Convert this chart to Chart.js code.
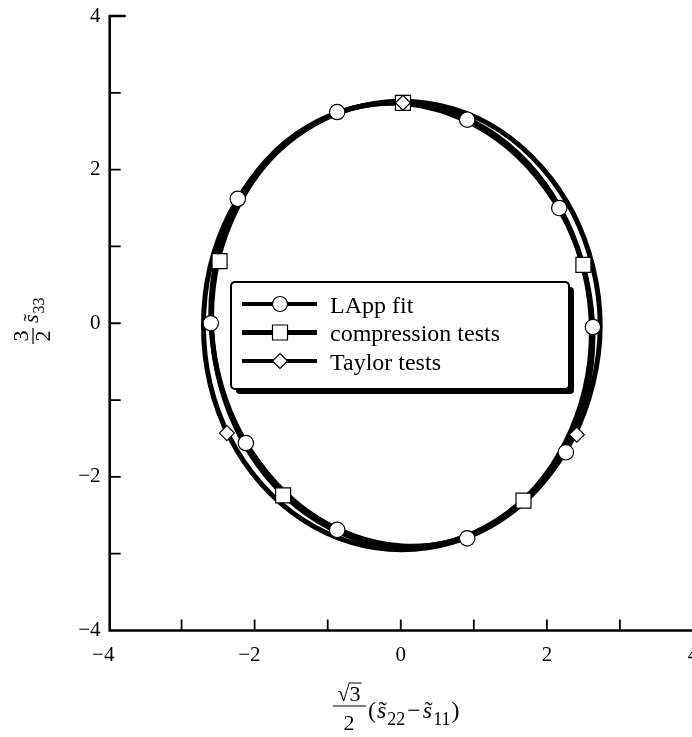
<!DOCTYPE html>
<html>
<head>
<meta charset="utf-8">
<script src="https://cdn.jsdelivr.net/npm/chart.js@4/dist/chart.umd.min.js"></script>
<style>
  html, body { margin: 0; padding: 0; background: #fff; overflow: hidden; }
  #wrap { position: relative; width: 720px; height: 737px; }
</style>
</head>
<body>
<div id="wrap"><canvas id="c" width="720" height="737"></canvas></div>
<script>
// ---- data -------------------------------------------------------------
const seriesNames = ['LApp fit', 'compression tests', 'Taylor tests'];

// LApp fit yield locus (closed curve, read every 15 degrees round the locus)
const lappCurveX = [2.63, 2.54, 2.28, 1.86, 1.32, 0.69, 0.02, -0.66, -1.29, -1.83, -2.25, -2.51, -2.60, -2.51, -2.25, -1.83, -1.29, -0.66, 0.02, 0.69, 1.32, 1.86, 2.28, 2.54];
const lappCurveY = [-0.17, 0.58, 1.29, 1.91, 2.40, 2.72, 2.86, 2.80, 2.55, 2.13, 1.55, 0.87, 0.13, -0.62, -1.33, -1.95, -2.44, -2.76, -2.90, -2.84, -2.59, -2.17, -1.59, -0.91];
const lappMarkX = [2.63, 2.17, 0.91, -0.87, -2.23, -2.60, -2.12, -0.87, 0.91, 2.26];
const lappMarkY = [-0.05, 1.50, 2.65, 2.75, 1.62, 0.00, -1.56, -2.69, -2.80, -1.68];

// compression tests
const compCurveX = [2.61, 2.52, 2.26, 1.85, 1.31, 0.68, 0.01, -0.66, -1.29, -1.83, -2.24, -2.50, -2.59, -2.50, -2.24, -1.83, -1.29, -0.66, 0.01, 0.68, 1.31, 1.85, 2.26, 2.52];
const compCurveY = [-0.11, 0.64, 1.35, 1.96, 2.44, 2.75, 2.87, 2.80, 2.53, 2.09, 1.50, 0.82, 0.07, -0.68, -1.39, -2.00, -2.48, -2.79, -2.91, -2.84, -2.57, -2.13, -1.54, -0.86];
const compMarkX = [0.03, -2.48, 2.50, -1.61, 1.68];
const compMarkY = [2.87, 0.81, 0.76, -2.24, -2.31];

// Taylor tests
const taylorCurveX = [2.73, 2.63, 2.36, 1.93, 1.37, 0.72, 0.01, -0.69, -1.34, -1.91, -2.34, -2.61, -2.70, -2.61, -2.34, -1.91, -1.34, -0.69, 0.01, 0.72, 1.37, 1.93, 2.36, 2.63];
const taylorCurveY = [-0.03, 0.73, 1.43, 2.03, 2.50, 2.79, 2.89, 2.79, 2.50, 2.03, 1.43, 0.73, -0.03, -0.79, -1.49, -2.09, -2.56, -2.85, -2.95, -2.85, -2.56, -2.09, -1.49, -0.79];
const taylorMarkX = [0.03, -2.38, 2.41];
const taylorMarkY = [2.87, -1.43, -1.45];

// axes
const xLabelTicks = [-4, -2, 0, 2, 4];
const yLabelTicks = [-4, -2, 0, 2, 4];
const xMinorTicks = [-3, -2, -1, 0, 1, 2, 3];
const yMinorTicks = [-3, -2, -1, 0, 1, 2, 3];

// ---- helpers ----------------------------------------------------------
const SERIF = "'Liberation Serif', 'Times New Roman', serif";
const zip = (xs, ys) => xs.map((x, i) => ({ x, y: ys[i] }));
const fmtNum = v => (v < 0 ? '\u2212' + Math.abs(v) : String(v));

// close the line datasets flagged with `closed` into smooth loops
const loopPlugin = {
  id: 'loop',
  beforeDatasetsDraw(chart) {
    chart.data.datasets.forEach((ds, i) => {
      if (!ds.closed) return;
      const line = chart.getDatasetMeta(i).dataset;
      if (!line) return;
      line._loop = true;
      line._fullLoop = true;
      line._pointsUpdated = false;
      line._segments = undefined;
      line._path = undefined;
    });
  }
};

function drawMarker(ctx, style, x, y) {
  ctx.save();
  ctx.fillStyle = '#fff';
  ctx.strokeStyle = '#000';
  ctx.lineWidth = 1.2;
  ctx.beginPath();
  if (style === 'circle') {
    ctx.arc(x, y, 7.5, 0, Math.PI * 2);
  } else if (style === 'rect') {
    ctx.rect(x - 7.5, y - 7.5, 15, 15);
  } else {
    ctx.moveTo(x, y - 7.5); ctx.lineTo(x + 7.5, y); ctx.lineTo(x, y + 7.5); ctx.lineTo(x - 7.5, y); ctx.closePath();
  }
  ctx.fill();
  ctx.stroke();
  ctx.restore();
}

// s with tilde and a subscript; returns advance width
function drawSTilde(ctx, x, base, sub, size, subSize) {
  ctx.font = `italic ${size}px ${SERIF}`;
  const sw = ctx.measureText('s').width;
  ctx.fillText('s', x, base);
  ctx.font = `${size}px ${SERIF}`;
  const tw = ctx.measureText('\u02DC').width;
  ctx.fillText('\u02DC', x + sw / 2 - tw / 2 + size * 0.04, base + size * 0.02);
  ctx.font = `${subSize}px ${SERIF}`;
  ctx.fillText(sub, x + sw + 1, base + size * 0.28);
  return sw + 1 + ctx.measureText(sub).width;
}

const framePlugin = {
  id: 'frame',
  afterDraw(chart) {
    const { ctx, chartArea: a, scales: { x, y } } = chart;
    ctx.save();
    ctx.strokeStyle = '#000';
    ctx.fillStyle = '#000';

    // axis lines
    const lx = a.left + 1.2;
    const by = a.bottom;
    ctx.lineWidth = 2.6;
    ctx.beginPath();
    ctx.moveTo(lx + 16, a.top);
    ctx.lineTo(lx, a.top);
    ctx.lineTo(lx, by);
    ctx.lineTo(chart.width, by);
    ctx.stroke();

    // inward tick marks
    ctx.lineWidth = 1.8;
    ctx.beginPath();
    yMinorTicks.forEach(v => {
      const py = y.getPixelForValue(v);
      ctx.moveTo(lx, py); ctx.lineTo(lx + 11, py);
    });
    xMinorTicks.forEach(v => {
      const px = x.getPixelForValue(v);
      ctx.moveTo(px, by); ctx.lineTo(px, by - 11);
    });
    ctx.stroke();

    // legend
    const bx = 231, byy = 282, bw = 338, bh = 107;
    ctx.beginPath(); ctx.roundRect(bx + 5, byy + 5, bw, bh, 4); ctx.fill();
    ctx.fillStyle = '#fff';
    ctx.beginPath(); ctx.roundRect(bx, byy, bw, bh, 4); ctx.fill();
    ctx.lineWidth = 2; ctx.stroke();
    const rows = [
      { name: seriesNames[0], style: 'circle', lw: 3.8, y: 304 },
      { name: seriesNames[1], style: 'rect', lw: 4.8, y: 332.5 },
      { name: seriesNames[2], style: 'diamond', lw: 3.8, y: 361 }
    ];
    rows.forEach(r => {
      ctx.strokeStyle = '#000';
      ctx.lineWidth = r.lw;
      ctx.beginPath(); ctx.moveTo(242, r.y); ctx.lineTo(317, r.y); ctx.stroke();
      drawMarker(ctx, r.style, 280, r.y);
      ctx.fillStyle = '#000';
      ctx.font = `24px ${SERIF}`;
      ctx.textBaseline = 'alphabetic';
      ctx.textAlign = 'left';
      ctx.fillText(r.name, 330, r.y + 8.5);
    });

    // x axis title: (sqrt3 / 2) (s22 - s11)
    ctx.fillStyle = '#000';
    ctx.strokeStyle = '#000';
    ctx.textAlign = 'left';
    ctx.textBaseline = 'alphabetic';
    ctx.font = `22px ${SERIF}`;
    const rad = '\u221A';
    const rw = ctx.measureText(rad).width;
    const tw3 = ctx.measureText('3').width;
    const fx = 349;
    const numX = fx - (rw + tw3) / 2;
    ctx.fillText(rad, numX, 701);
    ctx.fillText('3', numX + rw, 701);
    ctx.lineWidth = 1;
    ctx.beginPath(); ctx.moveTo(numX + rw - 1, 683); ctx.lineTo(numX + rw + tw3 + 1, 683); ctx.stroke();
    ctx.lineWidth = 1.2;
    ctx.beginPath(); ctx.moveTo(333, 706); ctx.lineTo(366, 706); ctx.stroke();
    const tw2 = ctx.measureText('2').width;
    ctx.fillText('2', fx - tw2 / 2, 730);
    let cx = 368;
    const base = 718;
    ctx.font = `24px ${SERIF}`;
    ctx.fillText('(', cx, base); cx += ctx.measureText('(').width + 1;
    cx += drawSTilde(ctx, cx, base, '22', 24, 18);
    ctx.font = `24px ${SERIF}`;
    cx += 2;
    ctx.fillText('\u2212', cx, base); cx += ctx.measureText('\u2212').width + 2;
    cx += drawSTilde(ctx, cx, base, '11', 24, 18);
    ctx.font = `24px ${SERIF}`;
    ctx.fillText(')', cx + 1, base);

    // y axis title: (3 / 2) s33, rotated
    ctx.save();
    ctx.translate(33, 336);
    ctx.rotate(-Math.PI / 2);
    ctx.font = `22px ${SERIF}`;
    const w3 = ctx.measureText('3').width;
    ctx.fillText('3', -w3 / 2, -5);
    ctx.fillText('2', -w3 / 2, 17);
    ctx.lineWidth = 1.2;
    ctx.beginPath(); ctx.moveTo(-8, 0); ctx.lineTo(8, 0); ctx.stroke();
    drawSTilde(ctx, 13, 5, '33', 22, 16);
    ctx.restore();

    ctx.restore();
  }
};

// ---- chart ------------------------------------------------------------
const lineBase = {
  type: 'line', showLine: true, pointRadius: 0, borderColor: '#000',
  borderWidth: 5, tension: 0.34, spanGaps: true, closed: true,
  borderJoinStyle: 'round', borderCapStyle: 'round', fill: false
};
const markBase = {
  type: 'line', showLine: false, backgroundColor: '#fff', borderColor: '#000',
  pointBackgroundColor: '#fff', pointBorderColor: '#000', pointBorderWidth: 1.2
};

new Chart(document.getElementById('c'), {
  type: 'line',
  data: {
    datasets: [
      { ...markBase, label: seriesNames[2], data: zip(taylorMarkX, taylorMarkY), pointStyle: 'rectRot', pointRadius: 7.5, order: 1 },
      { ...markBase, label: seriesNames[1], data: zip(compMarkX, compMarkY), pointStyle: 'rect', pointRadius: 10.6, order: 2 },
      { ...markBase, label: seriesNames[0], data: zip(lappMarkX, lappMarkY), pointStyle: 'circle', pointRadius: 7.7, order: 3 },
      { ...lineBase, label: seriesNames[2], data: zip(taylorCurveX, taylorCurveY), order: 4 },
      { ...lineBase, label: seriesNames[1], data: zip(compCurveX, compCurveY), order: 5 },
      { ...lineBase, label: seriesNames[0], data: zip(lappCurveX, lappCurveY), order: 6 }
    ]
  },
  options: {
    responsive: false,
    animation: false,
    events: [],
    layout: { padding: { left: 0, top: 16, right: 27, bottom: 46.5 } },
    plugins: { legend: { display: false }, tooltip: { enabled: false } },
    scales: {
      x: {
        type: 'linear', min: -4, max: 4,
        grid: { display: false, drawTicks: false }, border: { display: false },
        ticks: {
          stepSize: 1, autoSkip: false, maxRotation: 0, padding: 12, color: '#000',
          font: { family: SERIF, size: 21 },
          callback: v => (xLabelTicks.includes(v) ? (v < 0 ? fmtNum(v) + '\u2002' : fmtNum(v)) : '')
        },
        afterFit: s => { s.height = 60; s.paddingLeft = 0; s.paddingRight = 0; }
      },
      y: {
        type: 'linear', min: -4, max: 4,
        grid: { display: false, drawTicks: false }, border: { display: false },
        ticks: {
          stepSize: 1, autoSkip: false, padding: 8, color: '#000',
          font: { family: SERIF, size: 21 },
          callback: v => (yLabelTicks.includes(v) ? fmtNum(v) : '')
        },
        afterFit: s => { s.width = 108.5; s.paddingTop = 0; s.paddingBottom = 0; }
      }
    }
  },
  plugins: [loopPlugin, framePlugin]
});
</script>
</body>
</html>
